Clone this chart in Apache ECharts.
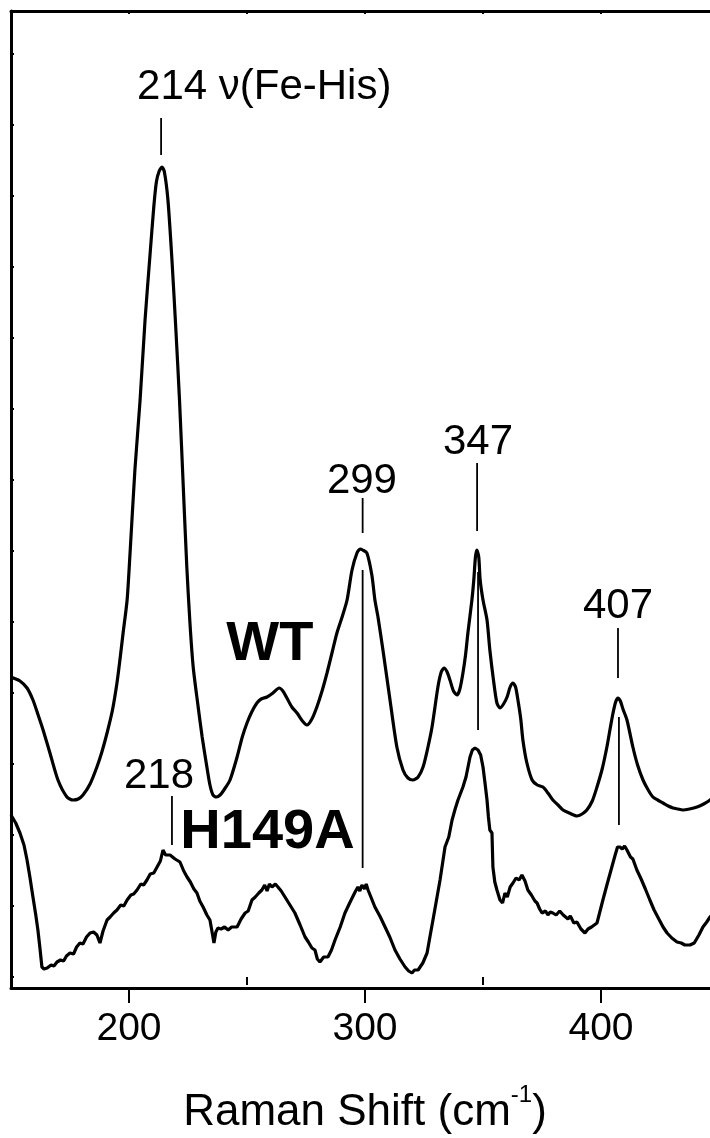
<!DOCTYPE html>
<html><head><meta charset="utf-8">
<script src="https://cdn.jsdelivr.net/npm/echarts@6/dist/echarts.min.js"></script>
<style>html,body{margin:0;padding:0;background:#fff}#c{width:710px;height:1138px}</style>
</head><body><div id="c"></div>
<script>
// Raman shift (cm-1) and intensity (arb. units) for the WT spectrum
const wtX=[150.0,150.9,153.8,156.8,159.3,161.5,163.6,166.5,169.9,173.7,176.3,178.5,180.5,183.5,186.4,188.5,190.7,193.0,194.9,196.2,197.5,199.2,200.4,202.5,204.7,206.8,208.9,210.5,211.6,212.8,214.0,215.0,216.5,218.2,219.8,221.4,223.0,224.5,225.8,227.2,229.2,231.0,233.0,234.3,235.6,237.0,238.6,240.5,242.8,245.8,248.0,250.0,252.0,254.2,256.0,258.5,261.0,263.6,265.2,266.9,269.0,271.2,273.5,275.4,277.5,279.6,281.8,283.9,286.0,288.1,290.3,292.4,294.5,296.6,298.0,299.0,300.8,302.9,304.2,305.5,307.6,310.6,313.5,316.1,318.2,320.3,322.5,324.6,326.5,328.4,330.9,332.3,333.5,334.8,336.0,337.5,339.0,340.2,341.5,342.6,343.6,345.3,346.1,346.8,347.4,348.2,348.8,350.0,351.7,352.9,354.6,355.9,357.2,358.7,360.2,361.5,362.7,363.8,364.8,366.0,366.9,368.5,370.8,373.0,375.4,377.5,379.6,381.8,383.9,386.5,389.8,392.0,394.0,396.3,398.3,400.5,402.5,404.0,405.1,406.2,407.2,408.2,409.3,411.0,413.5,415.5,417.8,420.0,422.0,424.0,426.3,428.5,430.5,432.5,434.7,437.5,440.7,443.5,446.2,448.0];
const wtY=[300,299,296,289,277,262,247,224,197,180,177,178,182,193,210,225,244,267,294,318,344,377,422,507,577,657,722,770,795,806,810,805,777,717,650,577,490,410,355,310,272,240,210,192,182,180,182,188,197,220,240,254,265,274,278,280,284,289,286,279,270,264,256,252,258,270,286,304,324,344,360,377,407,424,428,427,424,402,377,360,327,277,230,207,199,197,200,210,228,250,290,305,309,305,297,286,282,288,304,322,344,377,397,420,427,420,397,377,357,327,294,274,269,273,280,290,294,290,277,258,237,215,197,192,190,184,177,172,167,164,161,163,167,176,190,208,230,250,264,275,279,276,268,257,230,212,197,187,180,177,174,171,169,168,167,168,170,173,177,180];
// H149A spectrum
const hX=[150.0,152.0,153.8,155.5,156.8,158.0,159.3,160.5,161.4,162.3,163.1,164.0,165.3,167.0,168.2,169.5,171.0,172.3,173.5,175.0,176.5,177.8,179.2,180.5,182.0,183.5,185.0,186.4,187.7,189.0,190.7,192.0,193.5,194.9,196.5,197.8,199.2,200.8,202.0,203.4,205.0,206.2,207.6,209.0,210.5,211.9,213.3,214.4,215.5,217.4,219.5,221.6,223.2,224.6,226.0,227.5,228.8,230.0,231.4,233.0,234.3,235.2,236.0,236.8,237.7,239.0,240.5,242.0,243.5,245.8,247.5,249.2,250.5,252.1,253.5,255.0,256.3,257.5,258.5,259.5,260.6,262.0,263.1,264.5,266.1,268.2,270.3,272.5,274.6,276.0,277.5,278.8,279.8,280.9,282.5,284.3,285.8,287.3,289.5,291.5,293.5,295.8,297.0,297.8,298.7,299.8,300.5,301.3,302.5,304.2,306.5,308.5,310.5,312.7,314.8,317.0,318.5,319.9,321.0,322.5,324.5,326.3,327.5,328.8,330.3,331.8,333.9,335.5,336.9,338.2,339.4,341.5,342.8,344.5,345.5,346.6,347.9,349.0,350.0,350.8,351.7,352.3,352.9,353.8,354.2,355.0,355.9,357.2,358.3,359.3,360.3,361.5,362.7,364.0,365.3,366.5,367.8,369.0,370.5,372.0,372.9,374.0,375.0,376.5,377.5,378.5,379.6,381.0,382.5,384.0,384.7,386.0,387.0,388.5,389.8,391.5,393.2,394.5,396.0,398.3,399.5,400.8,402.5,404.6,406.0,407.0,408.0,409.0,410.0,411.0,412.5,413.5,415.2,417.0,418.8,420.7,422.5,424.5,426.3,428.0,430.0,432.2,434.0,435.5,437.7,439.5,441.5,443.2,444.8,446.2,448.0];
const hY=[162,154,144,132,117,100,80,62,47,28,10,8,9,12,11,15,17,16,21,24,23,30,34,33,40,44,45,42,34,46,57,60,64,67,72,71,77,82,83,87,93,92,97,103,104,110,116,127,122,122,118,115,106,100,95,88,84,76,70,62,57,45,34,45,49,48,50,47,50,50,58,64,66,77,80,84,87,92,86,93,90,93,90,86,80,72,64,52,40,35,29,27,18,15,20,20,27,37,50,64,74,85,90,86,92,88,93,87,80,70,60,50,40,27,18,10,6,4,7,7,14,24,40,57,77,97,130,140,157,168,177,190,200,220,227,229,227,222,210,195,177,160,147,144,110,95,87,77,74,84,80,90,94,99,97,102,96,87,82,76,74,68,64,66,62,65,64,62,66,62,64,58,61,54,55,48,44,48,50,54,65,77,92,110,122,130,130,128,131,127,120,118,107,98,88,77,67,58,50,44,39,35,34,32,32,34,42,50,55,60,64];

const xMajorTicks=[200,300,400];
const xMinorTicks=[150,250,350,450];
const xTopTicks=[150,200,250,300,350,400,450];
const yTicks=[0,71,142,213,284,355,426,497,568,639,710,781,852,923];

// peak annotations
const peakText=['214 \u03bd(Fe-His)','218','299','347','407'];
const peakTextX=[203.4,212.7,298.7,347.9,407.2];
const peakTextY=[890,201,496,535,371];
const sampleText=['WT','H149A'];
const sampleTextX=[259.7,258.7];
const sampleTextY=[332,144];
// marker lines
const markX=[213.6,218.2,299.0,299.0,347.5,347.9,407.2,407.6];
const markY0=[822,132,444,109,446,247,299,152];
const markY1=[859,181,479,407,514,405,349,260];

const FONT="'Liberation Sans', Arial, sans-serif";
const zip=(a,b)=>a.map((v,i)=>[v,b[i]]);
const chart=echarts.init(document.getElementById('c'),null,{renderer:'canvas'});

const series=[
 {type:'line',name:'WT',data:zip(wtX,wtY),showSymbol:false,smooth:0.25,lineStyle:{color:'#000',width:3.2},silent:true,z:3},
 {type:'line',name:'H149A',data:zip(hX,hY),showSymbol:false,lineStyle:{color:'#000',width:3.2},silent:true,z:3}
];
markX.forEach((x,i)=>{
  series.push({type:'line',data:[[x,markY0[i]],[x,markY1[i]]],showSymbol:false,lineStyle:{color:'#000',width:1.8},silent:true,z:2});
});
const labelData=[];
peakText.forEach((t,i)=>{
  labelData.push({value:[peakTextX[i],peakTextY[i]],label:{show:true,formatter:t,position:i===0?'right':'inside',distance:0,fontSize:42,color:'#000',fontFamily:FONT}});
});
sampleText.forEach((t,i)=>{
  labelData.push({value:[sampleTextX[i],sampleTextY[i]],label:{show:true,formatter:t,position:'inside',fontSize:56,fontWeight:'bold',color:'#000',fontFamily:FONT}});
});
series.push({type:'scatter',data:labelData,symbolSize:0,itemStyle:{opacity:1},silent:true,z:5});

chart.setOption({
  animation:false,
  backgroundColor:'#fff',
  grid:{left:11,top:11,width:708,height:977,outerBoundsMode:'none',containLabel:false},
  xAxis:[
    {type:'value',min:150,max:450,position:'bottom',
     axisLine:{show:true,onZero:false,lineStyle:{color:'#000',width:3}},
     axisTick:{show:true,inside:false,length:15,customValues:xMajorTicks,lineStyle:{color:'#000',width:2}},
     axisLabel:{show:true,customValues:xMajorTicks,color:'#000',fontSize:39,fontFamily:FONT,margin:22},
     splitLine:{show:false},
     name:'{a|Raman Shift (cm}{b|-1}{a|)}',nameLocation:'middle',nameGap:95,
     nameTextStyle:{rich:{a:{fontSize:44,fontFamily:FONT,color:'#000',lineHeight:52,verticalAlign:'bottom'},b:{fontSize:24,fontFamily:FONT,color:'#000',lineHeight:52,verticalAlign:'top'}}}
    },
    {type:'value',min:150,max:450,position:'bottom',
     axisLine:{show:false},
     axisTick:{show:true,inside:false,length:8,customValues:xMinorTicks,lineStyle:{color:'#000',width:2}},
     axisLabel:{show:false},splitLine:{show:false}},
    {type:'value',min:150,max:450,position:'top',
     axisLine:{show:true,onZero:false,lineStyle:{color:'#000',width:3}},
     axisTick:{show:true,inside:true,length:3,customValues:xTopTicks,lineStyle:{color:'#000',width:2}},
     axisLabel:{show:false},splitLine:{show:false}}
  ],
  yAxis:[
    {type:'value',min:-11,max:966,position:'left',
     axisLine:{show:true,onZero:false,lineStyle:{color:'#000',width:3}},
     axisTick:{show:true,inside:true,length:3,customValues:yTicks,lineStyle:{color:'#000',width:2}},
     axisLabel:{show:false},splitLine:{show:false}}
  ],
  series:series
});
</script></body></html>
